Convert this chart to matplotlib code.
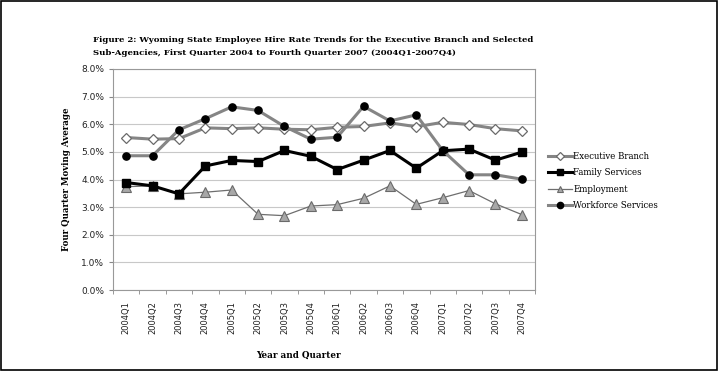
import numpy as np
import matplotlib.pyplot as plt
from matplotlib.ticker import FuncFormatter, FixedLocator

quarters = ['2004Q1', '2004Q2', '2004Q3', '2004Q4', '2005Q1', '2005Q2', '2005Q3', '2005Q4',
            '2006Q1', '2006Q2', '2006Q3', '2006Q4', '2007Q1', '2007Q2', '2007Q3', '2007Q4']

executive = [5.52, 5.46, 5.48, 5.87, 5.84, 5.87, 5.82, 5.80,
             5.89, 5.92, 6.05, 5.91, 6.07, 5.99, 5.84, 5.76]
family = [3.89, 3.77, 3.48, 4.49, 4.69, 4.65, 5.05, 4.84,
          4.36, 4.70, 5.05, 4.41, 5.04, 5.10, 4.70, 4.99]
employment = [3.74, 3.77, 3.48, 3.54, 3.62, 2.74, 2.69, 3.04,
              3.09, 3.32, 3.77, 3.10, 3.34, 3.60, 3.12, 2.73]
workforce = [4.86, 4.86, 5.80, 6.20, 6.63, 6.50, 5.92, 5.46,
             5.53, 6.65, 6.12, 6.34, 5.05, 4.17, 4.17, 4.01]

serif = ['DejaVu Serif']
sans = ['DejaVu Sans']

fig = plt.figure(figsize=(7.18, 3.71), dpi=100)
# outer border
fig.patches.append(plt.Rectangle((0.0015, 0.003), 0.997, 0.994, transform=fig.transFigure,
                                 fill=False, edgecolor='black', linewidth=1.2))

ax = fig.add_axes([113 / 718, 1 - 290 / 371, (535 - 113) / 718, (290 - 69) / 371])
x = np.arange(len(quarters))

ax.plot(x, executive, color='#858585', lw=2.2, marker='D', ms=5.2,
        mfc='white', mec='#6a6a6a', mew=0.9, label='Executive Branch', zorder=3)
ax.plot(x, family, color='black', lw=2.2, marker='s', ms=5.2,
        mfc='black', mec='black', label='Family Services', zorder=4)
ax.plot(x, employment, color='#6e6e6e', lw=0.9, marker='^', ms=7.2,
        mfc='#a8a8a8', mec='#6a6a6a', mew=0.8, label='Employment', zorder=3)
ax.plot(x, workforce, color='#858585', lw=2.2, marker='o', ms=5.2,
        mfc='black', mec='black', label='Workforce Services', zorder=5)

ax.set_xlim(-0.5, len(quarters) - 0.5)
ax.set_ylim(0, 8)
ax.set_yticks(np.arange(0, 9, 1))
ax.yaxis.set_major_formatter(FuncFormatter(lambda v, p: f'{v:.1f}%'))
ax.grid(axis='y', color='#c8c8c8', lw=0.8)
ax.set_axisbelow(True)

ax.set_xticks(x)
ax.set_xticklabels(quarters, rotation=90, fontsize=6, family=sans, color='#222222')
ax.tick_params(axis='x', which='major', length=0, pad=8)
ax.xaxis.set_minor_locator(FixedLocator(np.arange(-0.5, len(quarters), 1)))
ax.tick_params(axis='x', which='minor', length=3, color='#888888')
ax.tick_params(axis='y', labelsize=6.5, length=3, color='#888888', labelcolor='#222222')
for lab in ax.get_yticklabels():
    lab.set_family(sans)

for s in ax.spines.values():
    s.set_color('#999999')
    s.set_linewidth(0.8)

ax.set_ylabel('Four Quarter Moving Average', family=serif, fontweight='bold', fontsize=6.2, labelpad=7)
fig.text(298 / 718, 1 - 355 / 371, 'Year and Quarter', family=serif,
         fontweight='bold', fontsize=6.3, ha='center', va='center')

fig.text(93 / 718, 1 - 40 / 371,
         'Figure 2: Wyoming State Employee Hire Rate Trends for the Executive Branch and Selected',
         family=serif, fontweight='bold', fontsize=6.1, ha='left', va='center')
fig.text(93 / 718, 1 - 53 / 371,
         'Sub-Agencies, First Quarter 2004 to Fourth Quarter 2007 (2004Q1-2007Q4)',
         family=serif, fontweight='bold', fontsize=6.1, ha='left', va='center')

leg = ax.legend(loc='center left', bbox_to_anchor=(545 / 718, 1 - 181 / 371),
                bbox_transform=fig.transFigure, frameon=False,
                prop={'family': serif, 'size': 6.2}, handlelength=2.7,
                labelspacing=0.85, handletextpad=0.2, borderaxespad=0)
for line in leg.get_lines():
    line.set_markersize(4.5)

fig.savefig('out.png', dpi=100)
